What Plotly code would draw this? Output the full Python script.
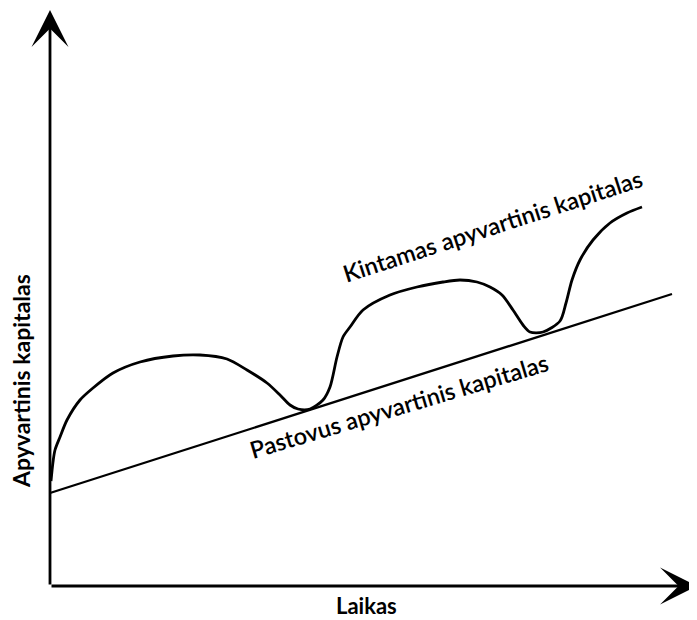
import plotly.graph_objects as go

# Data (time on x, working capital on y; arbitrary units)
line_time = [0, 622]
line_value = [93, 292]  # Pastovus apyvartinis kapitalas

curve_time = [1, 3, 5, 10, 17, 30, 43, 63, 90, 123, 150, 177, 197, 217, 230, 240, 248, 260,
              273, 280, 287, 293, 300, 313, 340, 367, 393, 410, 427, 440, 452, 463, 473, 480,
              493, 510, 516, 522, 530, 543, 560, 577, 592]
curve_value = [105, 124, 136, 149, 166, 186, 198, 213, 224, 230, 231, 227, 216, 203, 191, 181, 177, 177,
               186, 199, 229, 249, 259, 276, 291, 299, 304, 306, 304, 299, 291, 276, 261, 254,
               254, 265, 283, 306, 326, 346, 363, 373, 379]

x_label = "Laikas"
y_label = "Apyvartinis kapitalas"
curve_label = "Kintamas apyvartinis kapitalas"
line_label = "Pastovus apyvartinis kapitalas"

FONT = "Lato"

fig = go.Figure()
fig.add_trace(go.Scatter(x=line_time, y=line_value, mode="lines",
                         line=dict(color="black", width=2.3), hoverinfo="skip", showlegend=False))
fig.add_trace(go.Scatter(x=curve_time, y=curve_value, mode="lines",
                         line=dict(color="black", width=2.8, shape="spline", smoothing=0.8),
                         hoverinfo="skip", showlegend=False))

# Axes with arrow heads
fig.add_annotation(x=0, y=576, ax=0, ay=0, xref="x", yref="y", axref="x", ayref="y",
                   text="", showarrow=True, arrowhead=3, arrowwidth=2.8, arrowsize=2.2,
                   arrowcolor="black")
fig.add_annotation(x=647, y=0, ax=0, ay=0, xref="x", yref="y", axref="x", ayref="y",
                   text="", showarrow=True, arrowhead=3, arrowwidth=2.8, arrowsize=2.2,
                   arrowcolor="black")

fig.add_annotation(x=316, y=-19, xref="x", yref="y", text=x_label, showarrow=False,
                   font=dict(family=FONT, size=22, color="black", weight="bold"))
fig.add_annotation(x=-29, y=205, xref="x", yref="y", text=y_label, showarrow=False, textangle=-90,
                   font=dict(family=FONT, size=23, color="black", weight="bold"))
fig.add_annotation(x=442, y=360, xref="x", yref="y", text=curve_label, showarrow=False, textangle=-18,
                   font=dict(family=FONT, size=23.5, color="black", weight=600))
fig.add_annotation(x=349, y=180, xref="x", yref="y", text=line_label, showarrow=False, textangle=-16.6,
                   font=dict(family=FONT, size=23.5, color="black", weight=600))

# The page body adds an 8 px offset, so the figure is 8 px smaller and the ranges start there
fig.update_xaxes(range=[-42, 647], visible=False, showgrid=False, zeroline=False)
fig.update_yaxes(range=[-34, 578], visible=False, showgrid=False, zeroline=False)
fig.update_layout(width=689, height=612, margin=dict(l=0, r=0, t=0, b=0),
                  paper_bgcolor="white", plot_bgcolor="white", showlegend=False)

fig.write_html("out.html")
